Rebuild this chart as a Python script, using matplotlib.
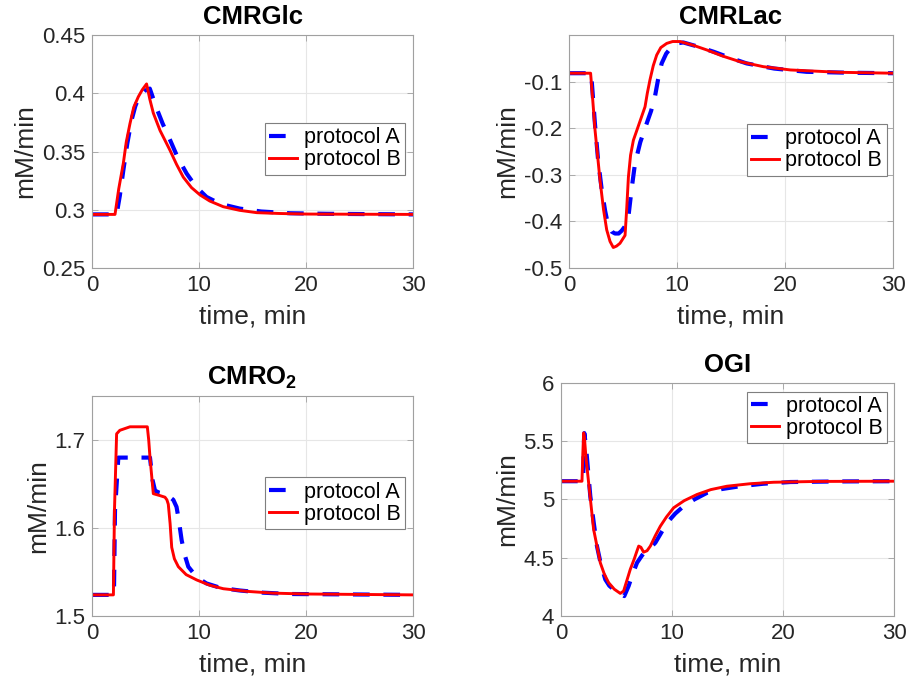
import matplotlib
matplotlib.use('Agg')
import matplotlib.pyplot as plt

plt.rcParams['font.family'] = ['Liberation Sans', 'DejaVu Sans']
plt.rcParams['mathtext.fontset'] = 'custom'
plt.rcParams['mathtext.rm'] = 'Liberation Sans'
plt.rcParams['mathtext.bf'] = 'Liberation Sans:bold'

# CMRGlc
glc_tA = [0, 2.3, 2.6, 2.93, 3.3, 3.7, 4.05, 4.4, 4.9, 5.4, 5.7, 6.04, 6.6, 7.29, 8.0, 8.85, 9.7, 10.7, 12.0, 13.8, 15.8, 18.5, 22, 30]
glc_A = [0.296, 0.296, 0.312, 0.334, 0.357, 0.377, 0.389, 0.397, 0.402, 0.404, 0.396, 0.387, 0.374, 0.360, 0.345, 0.331, 0.320, 0.311, 0.305, 0.301, 0.2985, 0.297, 0.2965, 0.296]
glc_tB = [0, 2.15, 2.5, 2.93, 3.2, 3.55, 3.9, 4.33, 4.7, 5.1, 5.4, 5.73, 6.36, 6.8, 7.29, 7.9, 8.53, 9.3, 10.1, 11.0, 12.27, 13.8, 15.4, 17.5, 20.1, 30]
glc_B = [0.296, 0.296, 0.318, 0.340, 0.358, 0.374, 0.388, 0.397, 0.403, 0.408, 0.395, 0.383, 0.368, 0.360, 0.351, 0.339, 0.328, 0.319, 0.3127, 0.3075, 0.3026, 0.2995, 0.2975, 0.2968, 0.2963, 0.296]

# CMRLac
lac_tA = [0, 2.05, 2.4, 2.7, 3.03, 3.35, 3.64, 3.95, 4.26, 4.6, 4.88, 5.2, 5.5, 5.8, 6.11, 6.6, 7.19, 7.6, 7.96, 8.25, 8.58, 9.0, 9.51, 10.0, 10.58, 11.8, 13.4, 14.8, 16.45, 19, 22, 26, 30]
lac_A = [-0.082, -0.082, -0.19, -0.27, -0.332, -0.378, -0.41, -0.422, -0.426, -0.426, -0.42, -0.41, -0.39, -0.33, -0.276, -0.23, -0.19, -0.163, -0.132, -0.095, -0.061, -0.04, -0.025, -0.018, -0.016, -0.024, -0.036, -0.048, -0.061, -0.072, -0.079, -0.081, -0.082]
lac_tB = [0, 2.0, 2.2, 2.41, 2.87, 3.2, 3.49, 3.8, 4.1, 4.4, 4.72, 5.19, 5.35, 5.5, 5.7, 5.96, 6.5, 7.04, 7.25, 7.5, 7.8, 8.12, 8.5, 9.05, 9.6, 10.28, 11.5, 12.75, 14.2, 15.8, 18, 20.5, 25, 30]
lac_B = [-0.082, -0.082, -0.14, -0.204, -0.311, -0.375, -0.418, -0.443, -0.456, -0.453, -0.447, -0.43, -0.37, -0.305, -0.258, -0.226, -0.19, -0.154, -0.125, -0.096, -0.066, -0.043, -0.027, -0.018, -0.014, -0.014, -0.022, -0.032, -0.045, -0.057, -0.068, -0.075, -0.08, -0.082]

# CMRO2
o2_tA = [0, 2.05, 2.15, 2.46, 2.9, 5.42, 5.65, 5.89, 6.3, 7.0, 7.29, 7.6, 7.9, 8.1, 8.38, 8.7, 9.0, 9.8, 10.7, 12.0, 13.8, 16, 18.5, 30]
o2_A = [1.524, 1.524, 1.62, 1.68, 1.68, 1.68, 1.655, 1.6425, 1.64, 1.638, 1.635, 1.632, 1.624, 1.61, 1.586, 1.568, 1.556, 1.544, 1.537, 1.532, 1.529, 1.5265, 1.525, 1.524]
o2_tB = [0, 2.0, 2.1, 2.3, 2.6, 3.55, 5.17, 5.3, 5.42, 5.73, 6.3, 6.82, 7.0, 7.13, 7.3, 7.45, 7.7, 8.07, 8.8, 9.78, 11.0, 12.27, 14.5, 16.9, 20, 30]
o2_B = [1.524, 1.524, 1.62, 1.707, 1.711, 1.715, 1.715, 1.70, 1.68, 1.639, 1.637, 1.635, 1.632, 1.627, 1.605, 1.578, 1.565, 1.556, 1.547, 1.541, 1.535, 1.531, 1.528, 1.526, 1.525, 1.524]

# OGI
ogi_tA = [0, 2.0, 2.05, 2.1, 2.25, 2.64, 2.95, 3.24, 3.6, 3.99, 4.35, 4.74, 5.2, 5.7, 6.09, 6.45, 6.85, 7.3, 7.75, 8.1, 8.5, 9.0, 9.55, 10.3, 11.05, 12.0, 13.15, 14.5, 16.15, 18.2, 20.65, 25, 30]
ogi_A = [5.157, 5.157, 5.45, 5.57, 5.457, 5.028, 4.80, 4.60, 4.44, 4.314, 4.26, 4.228, 4.20, 4.171, 4.257, 4.36, 4.457, 4.52, 4.571, 4.59, 4.629, 4.71, 4.80, 4.88, 4.943, 5.00, 5.057, 5.09, 5.114, 5.135, 5.15, 5.155, 5.157]
ogi_tB = [0, 1.89, 1.97, 2.04, 2.1, 2.25, 2.49, 2.94, 3.54, 3.9, 4.29, 4.8, 5.34, 5.64, 5.95, 6.24, 6.6, 6.85, 7.0, 7.2, 7.44, 7.75, 8.05, 8.5, 8.95, 9.5, 10.15, 11.1, 12.25, 13.5, 14.95, 17, 19.15, 23, 30]
ogi_B = [5.157, 5.157, 5.40, 5.572, 5.543, 5.36, 5.143, 4.743, 4.457, 4.36, 4.286, 4.23, 4.194, 4.214, 4.31, 4.40, 4.49, 4.56, 4.60, 4.59, 4.548, 4.56, 4.60, 4.69, 4.771, 4.85, 4.929, 4.99, 5.043, 5.085, 5.114, 5.135, 5.148, 5.155, 5.157]

panels = [
    ('CMRGlc', glc_tA, glc_A, glc_tB, glc_B, (0.25, 0.45), [0.25, 0.3, 0.35, 0.4, 0.45], ['0.25', '0.3', '0.35', '0.4', '0.45']),
    ('CMRLac', lac_tA, lac_A, lac_tB, lac_B, (-0.5, 0.0), [-0.5, -0.4, -0.3, -0.2, -0.1], ['-0.5', '-0.4', '-0.3', '-0.2', '-0.1']),
    (r'CMRO$_\mathbf{2}$', o2_tA, o2_A, o2_tB, o2_B, (1.5, 1.75), [1.5, 1.6, 1.7], ['1.5', '1.6', '1.7']),
    ('OGI', ogi_tA, ogi_A, ogi_tB, ogi_B, (4, 6), [4, 4.5, 5, 5.5, 6], ['4', '4.5', '5', '5.5', '6']),
]

W, H = 911, 684
boxes = [(92, 35, 413, 268), (569, 35, 893, 268), (92, 396, 413, 616), (561, 383, 894, 616)]
leg_anchor = [(0.975, 0.622), (0.98, 0.618), (0.975, 0.630), (0.978, 0.963)]

fig = plt.figure(figsize=(W / 100, H / 100), dpi=100)
txt = '#262626'
edge = '#a0a0a0'
for (title, tA, yA, tB, yB, ylim, yt, ytl), (x0, y0, x1, y1), anc in zip(panels, boxes, leg_anchor):
    ax = fig.add_axes([x0 / W, 1 - y1 / H, (x1 - x0) / W, (y1 - y0) / H])
    ax.plot(tA, yA, color='#0000ff', lw=3, dashes=(4.0, 3.3), label='protocol A')
    ax.plot(tB, yB, color='#ff0000', lw=2.1, label='protocol B')
    ax.set_xlim(0, 30)
    ax.set_ylim(*ylim)
    ax.set_xticks([0, 10, 20, 30])
    ax.set_yticks(yt)
    ax.set_yticklabels(ytl)
    ax.grid(True, color='#e6e6e6', lw=0.8)
    ax.tick_params(direction='in', length=4, width=0.6, colors=edge, labelcolor=txt,
                   labelsize=16, top=True, right=True, pad=5)
    for s in ax.spines.values():
        s.set_color(edge)
        s.set_linewidth(0.8)
    ax.set_xlabel('time, min', fontsize=19, color=txt, labelpad=6)
    ax.set_ylabel('mM/min', fontsize=19, color=txt, labelpad=3)
    ax.set_title(title, fontsize=18.5, fontweight='bold', color='black', pad=8)
    leg = ax.legend(loc='upper right', bbox_to_anchor=anc, borderaxespad=0, fontsize=15.5,
                    fancybox=False, framealpha=1, edgecolor='#7f7f7f', handlelength=1.3,
                    handletextpad=0.3, labelspacing=0.05, borderpad=0.2)
    leg.get_frame().set_linewidth(0.8)

fig.savefig('out.png', dpi=100)
